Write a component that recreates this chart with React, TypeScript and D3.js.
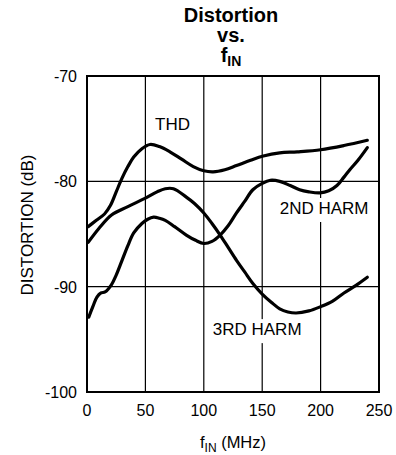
import React from "react";
import * as d3 from "d3";

const xTicks = [0, 50, 100, 150, 200, 250];
const yTicks = [-70, -80, -90, -100];

const thdFreq = [1, 8, 15, 20, 25, 30, 35, 40, 47, 54, 62, 71, 81, 91, 100, 108, 118, 128, 140, 151, 165, 180, 200, 220, 240];
const thdValues = [-84.3, -83.7, -83.1, -82.3, -81.0, -79.7, -78.6, -77.7, -76.9, -76.5, -76.7, -77.2, -77.9, -78.6, -79.0, -79.1, -78.9, -78.5, -78.0, -77.6, -77.3, -77.2, -77.0, -76.6, -76.1];

const harm3Freq = [1, 10, 21, 35, 50, 60, 67, 74, 85, 92, 100, 107, 114, 121, 128, 135, 142, 150, 158, 165, 172, 179, 190, 200, 210, 220, 230, 240];
const harm3Values = [-85.8, -84.5, -83.2, -82.4, -81.6, -81.0, -80.7, -80.7, -81.5, -82.1, -83.0, -84.0, -85.1, -86.3, -87.5, -88.6, -89.7, -90.7, -91.5, -92.1, -92.4, -92.5, -92.3, -91.9, -91.4, -90.6, -89.9, -89.1];

const harm2Freq = [1.5, 5, 8.5, 12, 15.5, 21, 25, 30, 35, 40, 47, 52, 57, 62, 67, 75, 85, 93, 100, 107, 114, 121, 128, 135, 142, 150, 157, 165, 174, 182, 190, 199.5, 207, 214, 220, 225, 232, 240];
const harm2Values = [-92.9, -91.9, -91.0, -90.6, -90.5, -89.8, -88.9, -87.5, -86.1, -84.9, -84.0, -83.6, -83.4, -83.5, -83.7, -84.3, -85.1, -85.6, -85.9, -85.7, -85.1, -84.2, -83.0, -81.9, -80.8, -80.2, -79.9, -80.0, -80.4, -80.8, -81.0, -81.1, -80.9, -80.4, -79.6, -78.9, -78.0, -76.8];

const seriesLabels = ["THD", "2ND HARM", "3RD HARM"];
const labelFreq = [73.2, 203, 145.7];
const labelValue = [-75.1, -83.1, -94.6];

const W = 396;
const H = 455;
const left = 87;
const right = 379;
const top = 76;
const bottom = 392;
const FONT = "'Liberation Sans', Arial, Helvetica, sans-serif";

export default function App() {
  const x = d3.scaleLinear().domain([0, 250]).range([left, right]);
  const y = d3.scaleLinear().domain([-100, -70]).range([bottom, top]);

  const line = d3
    .line<[number, number]>()
    .x((d) => x(d[0]))
    .y((d) => y(d[1]))
    .curve(d3.curveCatmullRom.alpha(0.5));

  const series = [
    thdFreq.map((f, i) => [f, thdValues[i]] as [number, number]),
    harm2Freq.map((f, i) => [f, harm2Values[i]] as [number, number]),
    harm3Freq.map((f, i) => [f, harm3Values[i]] as [number, number]),
  ];

  const labelFont = 17;
  const charW = (s: string) => {
    const m: Record<string, number> = { T: 0.611, H: 0.722, D: 0.722, N: 0.722, R: 0.722, A: 0.667, M: 0.833, " ": 0.278, "2": 0.556, "3": 0.556 };
    let w = 0;
    for (const c of s) w += m[c] ?? 0.6;
    return w * labelFont;
  };

  return (
    <svg
      width={W}
      height={H}
      style={{ position: "absolute", left: 0, top: 0, background: "#fff" }}
      fontFamily={FONT}
    >
      <rect x={0} y={0} width={W} height={H} fill="#fff" />
      {/* title */}
      <text x={231} y={22} textAnchor="middle" fontSize={20} fontWeight="bold">Distortion</text>
      <text x={231} y={42} textAnchor="middle" fontSize={20} fontWeight="bold">vs.</text>
      <text x={231} y={62} textAnchor="middle" fontSize={20} fontWeight="bold">
        f<tspan fontSize={14} dy={4}>IN</tspan>
      </text>

      {/* grid */}
      {xTicks.slice(1, -1).map((t) => (
        <line key={"gx" + t} x1={x(t)} x2={x(t)} y1={top} y2={bottom} stroke="#000" strokeWidth={1.2} />
      ))}
      {yTicks.slice(1, -1).map((t) => (
        <line key={"gy" + t} x1={left} x2={right} y1={y(t)} y2={y(t)} stroke="#000" strokeWidth={1.2} />
      ))}

      {/* curve labels with white background */}
      {seriesLabels.map((s, i) => {
        const w = charW(s);
        const cx = x(labelFreq[i]);
        const by = y(labelValue[i]);
        return (
          <g key={s}>
            <rect x={cx - w / 2 - 2} y={by - 16} width={w + 4} height={24} fill="#fff" />
            <text x={cx} y={by} textAnchor="middle" fontSize={labelFont}>{s}</text>
          </g>
        );
      })}

      {/* curves */}
      {series.map((d, i) => (
        <path key={i} d={line(d) ?? ""} fill="none" stroke="#000" strokeWidth={3.2} strokeLinecap="round" strokeLinejoin="round" />
      ))}

      {/* frame */}
      <rect x={left} y={top} width={right - left} height={bottom - top} fill="none" stroke="#000" strokeWidth={2} />

      {/* ticks */}
      {yTicks.map((t) => (
        <text key={"yt" + t} x={77} y={y(t) + 6} textAnchor="end" fontSize={16}>{t}</text>
      ))}
      {xTicks.map((t) => (
        <text key={"xt" + t} x={x(t)} y={416} textAnchor="middle" fontSize={16}>{t}</text>
      ))}

      {/* axis titles */}
      <text transform={`translate(33,225) rotate(-90)`} textAnchor="middle" fontSize={17}>DISTORTION (dB)</text>
      <text x={233} y={448} textAnchor="middle" fontSize={16.5}>
        f<tspan fontSize={12} dy={4}>IN</tspan><tspan dy={-4}> (MHz)</tspan>
      </text>
    </svg>
  );
}
